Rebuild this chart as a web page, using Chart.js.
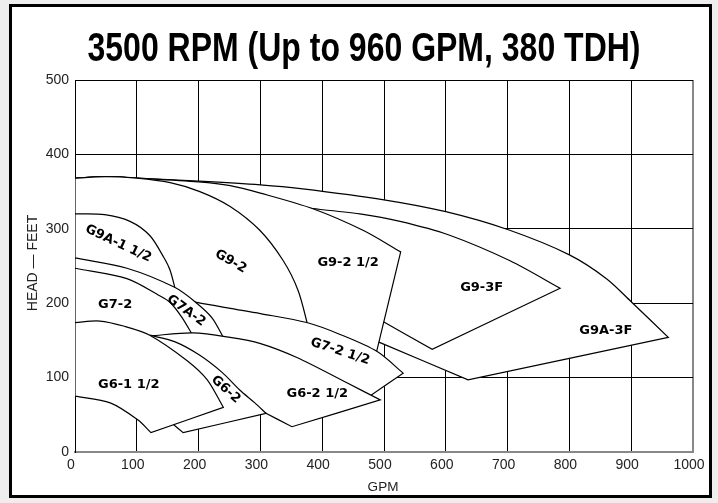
<!DOCTYPE html>
<html>
<head>
<meta charset="utf-8">
<script src="https://cdn.jsdelivr.net/npm/chart.js@4.4.1/dist/chart.umd.min.js"></script>
<style>
html,body{margin:0;padding:0;background:#eeeeee;overflow:hidden;}
#frame{position:absolute;left:9px;top:4px;width:697px;height:488px;border:3px solid #000;background:#fff;}
#wrap{position:absolute;left:0;top:0;width:718px;height:503px;}
</style>
</head>
<body>
<div id="frame"></div>
<div id="wrap"><canvas id="c" width="718" height="503"></canvas></div>
<script>
// ---- tick labels ----
const gpmTicks = [0,100,200,300,400,500,600,700,800,900,1000];
const headTicks = [0,100,200,300,400,500];

// ---- pump envelopes: runs of [GPM, head] ----
// (max impeller curve, end-of-curve line, min impeller curve, hidden closing run)
const g6_1_5 = [
  [[0,174],[40,176],[80,169],[121,157],[181,123],[214,97],[240,60]],
  [[240,60],[123,26]],
  [[123,26],[102,43],[57,66],[0,75]],
  [[0,75],[0,174]]
];
const g6_2 = [
  [[121,157],[162,148],[202,130],[238,107],[267,83],[291,66],[309,52]],
  [[309,52],[175,26]],
  [[175,26],[155,40]],
  [[155,40],[150,60],[121,140],[121,157]]
];
const g6_2_5 = [
  [[121,156],[191,160],[251,154],[299,146],[359,127],[440,93],[494,70]],
  [[494,70],[351,34]],
  [[351,34],[302,55]],
  [[302,55],[250,70],[150,120],[121,156]]
];
const g7_2 = [
  [[0,247],[84,233],[137,210],[154,201],[173,181],[191,156]],
  [[191,156],[189,140],[0,150],[0,247]]
];
const g7a_2 = [
  [[0,261],[84,247],[162,221],[197,200],[222,180],[242,151]],
  [[242,151],[189,150],[150,190],[0,230],[0,261]]
];
const g7_2_5 = [
  [[175,205],[197,201],[251,193],[300,186],[375,174],[429,158],[489,135],[531,106]],
  [[531,106],[475,74]],
  [[475,74],[440,80],[300,120],[200,150],[0,150],[175,205]]
];
const g9a_1_5 = [
  [[0,320],[48,319],[89,310],[121,291],[144,261],[154,244],[163,216]],
  [[163,216],[0,250],[0,320]]
];
const g9_2 = [
  [[0,368],[50,370],[100,368],[154,362],[202,350],[251,330],[299,298],[337,257],[361,217],[378,166]],
  [[378,166],[300,175],[200,190],[160,215],[0,300],[0,368]]
];
const g9_2_5 = [
  [[0,368],[50,370],[100,368],[200,363],[251,358],[300,348],[385,327],[466,298],[527,269]],
  [[527,269],[486,128]],
  [[486,128],[400,150],[300,175],[0,340],[0,368]]
];
const g9_3f = [
  [[283,335],[385,327],[461,320],[526,310],[604,292],[704,257],[785,220]],
  [[785,220],[578,138]],
  [[578,138],[497,176]],
  [[497,176],[420,210],[283,335]]
];
const g9a_3f = [
  [[0,368],[50,370],[100,368],[200,364],[300,359],[365,354],[500,339],[600,323],[700,299],[800,265],[860,233],[900,202],[960,154]],
  [[960,154],[636,97]],
  [[636,97],[488,149]],
  [[488,149],[420,200],[0,360],[0,368]]
];

// front-most first
const models = ['G6-1 1/2','G6-2','G6-2 1/2','G7-2','G7A-2','G7-2 1/2','G9A-1 1/2','G9-2','G9-2 1/2','G9-3F','G9A-3F'];
const envelopes = [g6_1_5, g6_2, g6_2_5, g7_2, g7a_2, g7_2_5, g9a_1_5, g9_2, g9_2_5, g9_3f, g9a_3f];

const TITLE = '3500 RPM (Up to 960 GPM, 380 TDH)';

const labelPlacement = [
  {text:'G9A-1 1/2', gpm:70,  head:280, angle:25},
  {text:'G9-2',      gpm:252, head:256, angle:30},
  {text:'G9-2 1/2',  gpm:442, head:255, angle:0},
  {text:'G9-3F',     gpm:658, head:221, angle:0},
  {text:'G9A-3F',    gpm:859, head:163, angle:0},
  {text:'G7-2',      gpm:65,  head:198, angle:0},
  {text:'G7A-2',     gpm:180, head:190, angle:36},
  {text:'G7-2 1/2',  gpm:429, head:135, angle:18},
  {text:'G6-1 1/2',  gpm:87,  head:91,  angle:0},
  {text:'G6-2',      gpm:244, head:84,  angle:42},
  {text:'G6-2 1/2',  gpm:392, head:78,  angle:0}
];

const datasets = envelopes.map((runs, i) => ({
  label: models[i],
  data: runs.flat().map(p => ({x: p[0], y: p[1]})),
  borderColor: '#000',
  borderWidth: 1.2,
  backgroundColor: '#fff',
  fill: 'shape',
  pointRadius: 0,
  tension: 0.3,
  order: i
}));

const decor = {
  id: 'decor',
  afterDatasetsDraw(chart) {
    const {ctx, scales: {x, y}} = chart;
    ctx.save();
    ctx.fillStyle = '#000';
    ctx.font = 'bold 13px "DejaVu Sans"';
    ctx.textAlign = 'center';
    ctx.textBaseline = 'middle';
    labelPlacement.forEach(l => {
      ctx.save();
      ctx.translate(x.getPixelForValue(l.gpm), y.getPixelForValue(l.head));
      ctx.rotate(l.angle * Math.PI / 180);
      ctx.fillText(l.text, 0, 0);
      ctx.restore();
    });
    ctx.restore();
  },
  afterDraw(chart) {
    const {ctx, chartArea} = chart;
    ctx.save();
    ctx.fillStyle = '#000';
    ctx.font = 'bold 40px "Liberation Sans"';
    const w = ctx.measureText(TITLE).width;
    ctx.translate(364, 61);
    ctx.scale(553 / w, 1);
    ctx.textAlign = 'center';
    ctx.textBaseline = 'alphabetic';
    ctx.fillText(TITLE, 0, 0);
    ctx.restore();

    ctx.save();
    ctx.fillStyle = '#222';
    ctx.font = '13.5px "Liberation Sans"';
    ctx.textAlign = 'center';
    ctx.textBaseline = 'alphabetic';
    ctx.fillText('GPM', (chartArea.left + chartArea.right) / 2 - 1, 491);
    ctx.translate(33, 263);
    ctx.rotate(-Math.PI / 2);
    ctx.font = '14px "Liberation Sans"';
    ctx.textBaseline = 'middle';
    ctx.fillText('HEAD \u2014 FEET', 0, 0);
    ctx.restore();
  }
};

Chart.defaults.font.family = '"Liberation Sans", Arial, sans-serif';

new Chart(document.getElementById('c'), {
  type: 'line',
  data: { datasets },
  options: {
    responsive: false,
    animation: false,
    devicePixelRatio: 1,
    layout: { padding: { top: 80, right: 25, bottom: 0, left: 0 } },
    plugins: { legend: { display: false }, tooltip: { enabled: false }, title: { display: false } },
    scales: {
      x: {
        type: 'linear',
        min: gpmTicks[0],
        max: gpmTicks[gpmTicks.length - 1],
        afterBuildTicks: s => { s.ticks = gpmTicks.map(v => ({value: v})); },
        afterFit: s => { s.height = 51; },
        ticks: { font: { size: 14 }, color: '#222', padding: 5, labelOffset: -4, maxRotation: 0, autoSkip: false,
                 callback: v => String(v) },
        grid: {
          drawTicks: false,
          color: c => (c.tick && c.tick.value === gpmTicks[gpmTicks.length - 1]) ? '#888' : '#000',
          lineWidth: c => (c.tick && c.tick.value === gpmTicks[gpmTicks.length - 1]) ? 2 : 1
        },
        border: { color: '#888', width: 2 }
      },
      y: {
        type: 'linear',
        min: headTicks[0],
        max: headTicks[headTicks.length - 1],
        afterBuildTicks: s => { s.ticks = headTicks.map(v => ({value: v})); },
        afterFit: s => { s.width = 75; },
        ticks: { font: { size: 14 }, color: '#222', padding: 6, callback: v => String(v) },
        grid: {
          drawTicks: false,
          color: c => (c.tick && c.tick.value === headTicks[0]) ? 'rgba(0,0,0,0)' : '#000',
          lineWidth: 1
        },
        border: { color: '#000', width: 1 }
      }
    }
  },
  plugins: [decor]
});
</script>
</body>
</html>
